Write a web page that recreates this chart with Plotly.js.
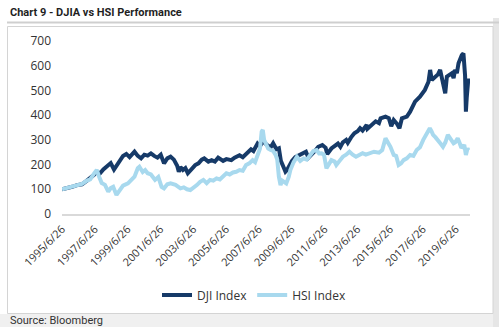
<!DOCTYPE html>
<html>
<head>
<meta charset="utf-8">
<script src="https://cdn.plot.ly/plotly-3.0.1.min.js"></script>
<style>html,body{margin:0;padding:0;background:#fff;}#chart{width:499px;height:327px;}</style>
</head>
<body>
<div id="chart"></div>
<script>
// ---- data (decimal years, indexed to 100 at 1995/6/26) ----
const djiYears = [1995.48,1995.8,1996.1,1996.4,1996.7,1997.0,1997.2,1997.45,1997.6,1997.8,1998.0,1998.3,1998.45,1998.65,1998.8,1999.0,1999.2,1999.4,1999.6,1999.9,2000.1,2000.3,2000.5,2000.7,2000.9,2001.1,2001.3,2001.5,2001.7,2001.9,2002.1,2002.3,2002.5,2002.6,2002.7,2002.85,2003.0,2003.15,2003.4,2003.6,2003.8,2004.0,2004.15,2004.4,2004.6,2004.8,2005.0,2005.3,2005.5,2005.8,2006.0,2006.3,2006.5,2006.75,2007.0,2007.15,2007.4,2007.55,2007.75,2007.95,2008.2,2008.35,2008.55,2008.7,2008.82,2008.95,2009.1,2009.2,2009.3,2009.5,2009.7,2009.95,2010.2,2010.35,2010.5,2010.7,2010.9,2011.1,2011.35,2011.55,2011.65,2011.9,2012.1,2012.3,2012.45,2012.6,2012.8,2012.9,2013.1,2013.3,2013.5,2013.65,2013.8,2014.05,2014.1,2014.35,2014.6,2014.8,2014.9,2015.2,2015.4,2015.55,2015.7,2015.9,2016.05,2016.2,2016.5,2016.7,2016.85,2017.0,2017.3,2017.6,2017.82,2017.92,2018.02,2018.22,2018.4,2018.53,2018.73,2018.84,2018.94,2019.24,2019.35,2019.44,2019.55,2019.65,2019.85,2019.95,2020.05,2020.1,2020.15,2020.2,2020.25];
const djiValues = [100,104,110,117,120,135,144,160,171,165,180,200,206,180,195,215,235,243,230,252,235,225,240,236,245,235,228,240,205,225,232,220,195,171,190,178,186,165,185,198,205,220,225,212,218,212,228,215,222,218,228,238,230,248,262,255,285,275,296,280,270,286,262,266,215,195,171,178,191,215,230,240,246,252,228,240,255,272,279,268,242,265,275,285,272,290,300,288,310,327,335,347,338,360,345,362,375,368,387,394,388,355,380,365,347,387,394,414,440,455,475,502,535,583,542,556,565,583,529,488,556,569,550,583,570,610,643,650,560,414,470,520,549];

const hsiYears = [1995.48,1995.8,1996.1,1996.4,1996.7,1997.0,1997.2,1997.45,1997.6,1997.75,1997.9,1998.1,1998.3,1998.45,1998.6,1998.8,1999.0,1999.2,1999.5,1999.7,1999.9,2000.1,2000.2,2000.4,2000.55,2000.7,2000.9,2001.15,2001.35,2001.55,2001.7,2001.9,2002.1,2002.4,2002.7,2002.9,2003.1,2003.3,2003.5,2003.7,2003.9,2004.1,2004.3,2004.5,2004.7,2004.9,2005.1,2005.3,2005.5,2005.7,2005.9,2006.1,2006.3,2006.5,2006.7,2006.9,2007.1,2007.25,2007.4,2007.55,2007.65,2007.72,2007.8,2007.9,2008.05,2008.2,2008.35,2008.5,2008.6,2008.7,2008.8,2008.9,2009.0,2009.15,2009.3,2009.4,2009.6,2009.8,2010.0,2010.2,2010.4,2010.6,2010.8,2011.0,2011.15,2011.3,2011.45,2011.6,2011.75,2011.9,2012.1,2012.2,2012.4,2012.6,2012.8,2013.0,2013.2,2013.4,2013.6,2013.8,2014.0,2014.3,2014.5,2014.8,2015.0,2015.2,2015.35,2015.5,2015.7,2015.85,2016.0,2016.15,2016.3,2016.5,2016.7,2016.9,2017.1,2017.3,2017.5,2017.7,2017.9,2018.0,2018.1,2018.25,2018.4,2018.55,2018.7,2018.85,2019.0,2019.1,2019.2,2019.35,2019.45,2019.6,2019.7,2019.8,2019.9,2020.0,2020.1,2020.2,2020.25];
const hsiValues = [100,106,112,117,122,135,140,165,178,150,125,118,90,105,110,77,95,115,124,140,151,185,191,170,178,165,160,138,150,110,104,120,124,118,104,108,100,97,105,117,130,138,125,138,135,144,140,150,165,160,168,171,178,175,198,205,218,210,239,265,333,340,300,286,265,259,255,239,220,151,117,135,131,124,150,178,210,232,215,225,220,239,255,259,245,246,240,185,205,218,212,198,215,232,240,252,240,232,239,246,240,245,252,248,259,306,290,272,239,235,198,205,218,225,239,235,259,270,300,325,347,335,320,310,300,285,272,290,320,310,300,286,290,306,290,272,270,280,239,266,258];

const tickYears = [1995.48,1997.48,1999.48,2001.48,2003.48,2005.48,2007.48,2009.48,2011.48,2013.48,2015.48,2017.48,2019.48];
const tickLabels = ['1995/6/26','1997/6/26','1999/6/26','2001/6/26','2003/6/26','2005/6/26','2007/6/26','2009/6/26','2011/6/26','2013/6/26','2015/6/26','2017/6/26','2019/6/26'];

// ---- layout helpers (pixel -> paper) ----
const L = 62, R = 470, T = 41, B = 214;
const W = R - L, H = B - T;
const px = v => (v - L) / W;
const py = v => (B - v) / H;

const FONT = 'Open Sans, DejaVu Sans, sans-serif';

const traces = [
  {x: djiYears, y: djiValues, type: 'scatter', mode: 'lines', name: 'DJI Index',
   line: {color: '#163a68', width: 4}},
  {x: hsiYears, y: hsiValues, type: 'scatter', mode: 'lines', name: 'HSI Index',
   line: {color: '#a8d9ee', width: 4}}
];

const layout = {
  width: 499, height: 327,
  margin: {l: L, r: 499 - R, t: T, b: 327 - B, pad: 0},
  paper_bgcolor: '#ffffff',
  plot_bgcolor: 'rgba(0,0,0,0)',
  font: {family: FONT, color: '#333333', size: 12},
  showlegend: true,
  legend: {orientation: 'h', x: px(254), xanchor: 'center', y: py(295), yanchor: 'middle',
           font: {size: 12, color: '#333333', family: FONT},
           bgcolor: 'rgba(0,0,0,0)', itemwidth: 30},
  xaxis: {range: [1995.48, 2020.35], tickvals: tickYears, ticktext: tickLabels,
          tickangle: -45, tickfont: {size: 11, color: '#333333', family: FONT},
          showgrid: false, zeroline: false, showline: true, linecolor: '#d9d9d9', linewidth: 1.5,
          ticks: '', ticklabelstandoff: 3, fixedrange: true},
  yaxis: {range: [0, 700], dtick: 100, tick0: 0, showgrid: false, zeroline: false, showline: false,
          ticks: '', tickfont: {size: 12, color: '#333333', family: FONT}, ticklabelstandoff: 10, fixedrange: true},
  shapes: [
    {type: 'rect', xref: 'paper', yref: 'paper', x0: px(0), x1: px(499), y0: py(314), y1: py(327),
     fillcolor: '#f0f0f0', line: {width: 0}, layer: 'below'},
    {type: 'rect', xref: 'paper', yref: 'paper', x0: px(493), x1: px(499), y0: py(18), y1: py(327),
     fillcolor: '#e6e6e6', line: {width: 0}, layer: 'below'},
    {type: 'rect', xref: 'paper', yref: 'paper', x0: px(7.5), x1: px(493), y0: py(26.5), y1: py(313.5),
     fillcolor: '#ffffff', line: {color: '#d4d4d4', width: 1}, layer: 'below'},
    {type: 'line', xref: 'paper', yref: 'paper', x0: px(7), x1: px(499), y0: py(22.5), y1: py(22.5),
     line: {color: '#cfcfcf', width: 2}, layer: 'below'}
  ],
  annotations: [
    {text: '<b>Chart 9 - DJIA vs HSI Performance</b>', xref: 'paper', yref: 'paper',
     x: px(8), y: py(12), xanchor: 'left', yanchor: 'middle', showarrow: false,
     font: {family: 'Roboto, sans-serif', size: 11, color: '#1f1f1f'}},
    {text: 'Source: Bloomberg', xref: 'paper', yref: 'paper',
     x: px(8), y: py(320.5), xanchor: 'left', yanchor: 'middle', showarrow: false,
     font: {family: 'Roboto, sans-serif', size: 11, color: '#333333'}}
  ]
};

Plotly.newPlot('chart', traces, layout, {displayModeBar: false, staticPlot: true});
</script>
</body>
</html>
